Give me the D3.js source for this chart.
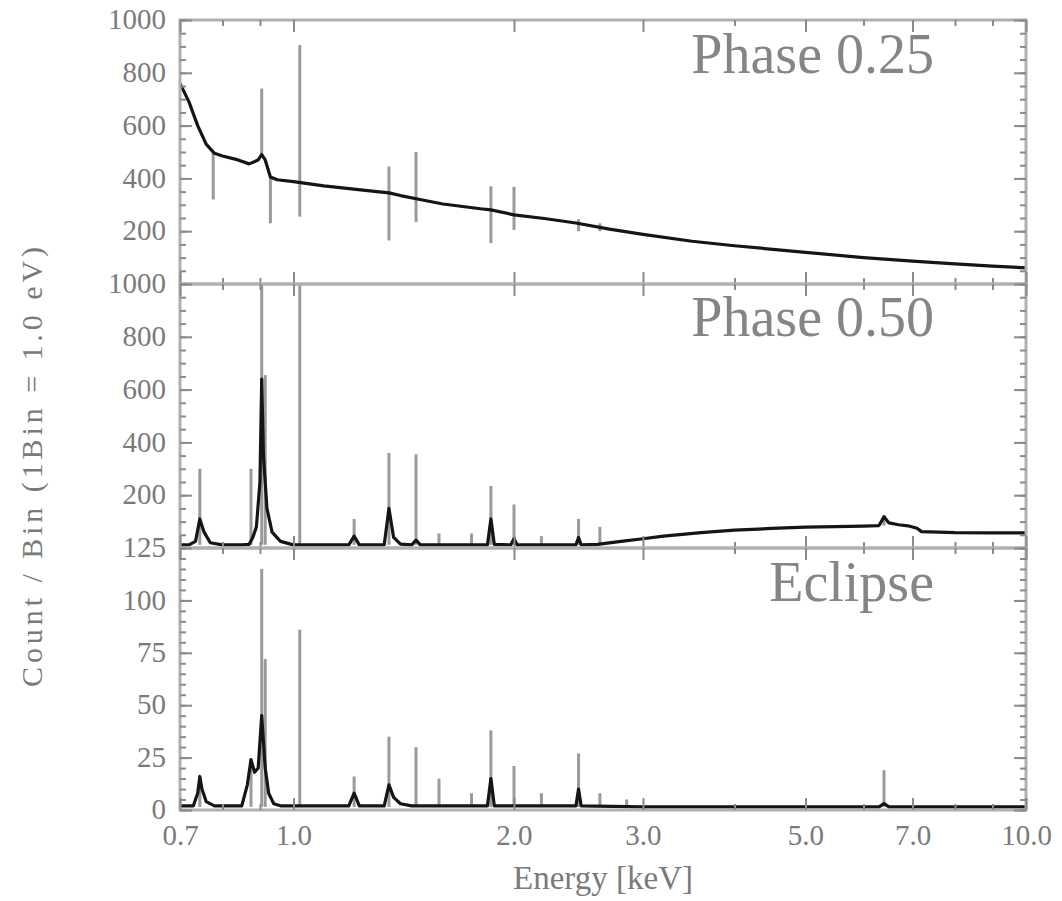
<!DOCTYPE html>
<html><head><meta charset="utf-8">
<script src="https://cdn.jsdelivr.net/npm/d3@7"></script>
<style>body{margin:0;background:#fff}svg{display:block}</style>
</head><body>
<svg id="chart" width="1062" height="901"></svg>
<script>
// ---------------- DATA ----------------
const panelTitles = ["Phase 0.25", "Phase 0.50", "Eclipse"];
const xTickValues = [0.7, 1.0, 2.0, 3.0, 5.0, 7.0, 10.0];
const xTickLabels = ["0.7", "1.0", "2.0", "3.0", "5.0", "7.0", "10.0"];
const xMinorTicks = [0.8, 0.9, 4.0, 6.0, 8.0, 9.0];
const yMax = [1000, 1000, 125];
const yTickValues = [[200, 400, 600, 800, 1000], [200, 400, 600, 800, 1000], [0, 25, 50, 75, 100, 125]];
const yMinorStep = [50, 50, 5];
const xTitle = "Energy [keV]";
const yTitle = "Count / Bin (1Bin = 1.0 eV)";

// Phase 0.25 spectrum (black)
const p25Energy = [0.70,0.72,0.74,0.76,0.78,0.80,0.84,0.87,0.895,0.905,0.915,0.93,0.95,1.0,1.1,1.2,1.3,1.35,1.4,1.5,1.6,1.8,1.86,2.0,2.2,2.43,2.7,3.0,3.5,4.0,5.0,6.0,7.0,8.0,9.0,10.0];
const p25Count  = [760,690,600,530,495,485,470,455,470,490,470,405,395,388,372,360,350,345,335,318,303,285,281,262,248,231,208,188,162,145,120,100,87,76,68,61];
// Phase 0.25 line markers (grey): energy, low, high
const p25LineE  = [0.777,0.905,0.93,1.02,1.35,1.47,1.86,2.0,2.45,2.62];
const p25LineLo = [320,480,230,255,165,235,155,205,200,200];
const p25LineHi = [495,740,405,905,445,500,370,368,245,230];

// Phase 0.50 spectrum (black)
const p50Energy = [0.70,0.72,0.735,0.745,0.755,0.77,0.80,0.85,0.87,0.88,0.89,0.90,0.905,0.91,0.92,0.935,0.96,1.0,1.19,1.21,1.23,1.33,1.35,1.37,1.40,1.45,1.47,1.49,1.84,1.86,1.88,1.98,2.0,2.02,2.43,2.45,2.47,2.6,2.8,3.0,3.2,3.6,4.0,4.5,5.0,5.5,6.0,6.3,6.4,6.5,6.7,6.9,7.1,7.2,8.0,9.0,10.0];
const p50Count  = [12,12,25,110,60,20,12,12,14,40,80,250,640,350,150,60,25,12,12,45,12,12,150,40,15,12,30,12,12,110,14,12,35,12,12,40,12,14,25,35,45,58,68,74,79,81,83,85,118,95,88,84,75,62,58,57,57];
const p50LineE  = [0.745,0.875,0.905,0.915,1.02,1.21,1.35,1.47,1.58,1.75,1.86,2.0,2.18,2.45,2.62,6.4];
const p50LineLo = [12,12,12,12,12,12,12,12,12,12,12,12,12,12,12,85];
const p50LineHi = [300,300,1100,655,1100,110,360,355,55,55,235,165,45,110,80,125];

// Eclipse spectrum (black)
const eclEnergy = [0.70,0.73,0.74,0.745,0.75,0.76,0.78,0.85,0.865,0.875,0.885,0.895,0.905,0.915,0.925,0.94,0.96,1.0,1.19,1.21,1.23,1.33,1.35,1.37,1.40,1.45,1.84,1.86,1.88,2.0,2.43,2.45,2.47,3.0,5.0,6.3,6.4,6.5,10.0];
const eclCount  = [2,2,8,16,10,4,2,2,12,24,18,20,45,20,8,3,2,2,2,8,2,2,12,6,3,2,2,15,2,2,2,10,2,1.5,1.5,1.5,3,1.5,1.5];
const eclLineE  = [0.745,0.875,0.905,0.915,1.02,1.21,1.35,1.47,1.58,1.75,1.86,2.0,2.18,2.45,2.62,2.85,6.4];
const eclLineLo = [1.5,1.5,1.5,1.5,1.5,1.5,1.5,1.5,1.5,1.5,1.5,1.5,1.5,1.5,1.5,1.5,1.5];
const eclLineHi = [16,24,115,72,86,16,35,30,15,8,38,21,8,27,8,5,19];

// ---------------- DRAW ----------------
const panels = [
  {E: p25Energy, C: p25Count, LE: p25LineE, LL: p25LineLo, LH: p25LineHi},
  {E: p50Energy, C: p50Count, LE: p50LineE, LL: p50LineLo, LH: p50LineHi},
  {E: eclEnergy, C: eclCount, LE: eclLineE, LL: eclLineLo, LH: eclLineHi}
];
const svg = d3.select("#chart");
const left = 180, right = 1026;
const tops = [20, 284, 548], bottoms = [284, 548, 810];
const font = "'Liberation Serif', 'Times New Roman', serif";
const textGrey = "#7a7a7a";

const x = d3.scaleLog().domain([0.7, 10]).range([left, right]);

panels.forEach((p, i) => {
  const top = tops[i], bottom = bottoms[i];
  const y = d3.scaleLinear().domain([0, yMax[i]]).range([bottom, top]);
  const g = svg.append("g");
  const clipId = "clip" + i;
  svg.append("clipPath").attr("id", clipId).append("rect")
     .attr("x", left).attr("y", top).attr("width", right - left).attr("height", bottom - top);
  const plot = g.append("g").attr("clip-path", `url(#${clipId})`);

  // grey line markers
  plot.selectAll("line.mark").data(d3.range(p.LE.length)).join("line")
    .attr("class", "mark")
    .attr("x1", k => x(p.LE[k])).attr("x2", k => x(p.LE[k]))
    .attr("y1", k => y(p.LL[k])).attr("y2", k => y(p.LH[k]))
    .attr("stroke", "#9a9a9a").attr("stroke-width", 3);

  // black spectrum
  const line = d3.line().x((d, k) => x(p.E[k])).y((d, k) => y(p.C[k]));
  plot.append("path").datum(p.C).attr("d", line)
    .attr("fill", "none").attr("stroke", "#151515").attr("stroke-width", 3.2)
    .attr("stroke-linejoin", "round");

  // frame
  g.append("rect").attr("x", left).attr("y", top).attr("width", right - left).attr("height", bottom - top)
    .attr("fill", "none").attr("stroke", "#b0b0b0").attr("stroke-width", 3);

  const styleAxis = a => {
    a.select(".domain").remove();
    a.selectAll(".tick line").attr("stroke", "#8a8a8a").attr("stroke-width", 2);
    a.selectAll("text").attr("fill", textGrey).attr("font-family", font).attr("font-size", 29);
  };

  // x major ticks (bottom & top, inward)
  const xb = g.append("g").attr("transform", `translate(0,${bottom})`)
    .call(d3.axisBottom(x).tickValues(xTickValues).tickSize(-12).tickPadding(14)
      .tickFormat((d, k) => i === 2 ? xTickLabels[k] : ""));
  styleAxis(xb);
  const xbm = g.append("g").attr("transform", `translate(0,${bottom})`)
    .call(d3.axisBottom(x).tickValues(xMinorTicks).tickSize(-6).tickFormat(""));
  styleAxis(xbm);
  const xt = g.append("g").attr("transform", `translate(0,${top})`)
    .call(d3.axisTop(x).tickValues(xTickValues).tickSize(-12).tickFormat(""));
  styleAxis(xt);
  const xtm = g.append("g").attr("transform", `translate(0,${top})`)
    .call(d3.axisTop(x).tickValues(xMinorTicks).tickSize(-6).tickFormat(""));
  styleAxis(xtm);

  // y ticks
  const minor = d3.range(0, yMax[i] + 0.001, yMinorStep[i]);
  const yl = g.append("g").attr("transform", `translate(${left},0)`)
    .call(d3.axisLeft(y).tickValues(yTickValues[i]).tickSize(-12).tickPadding(14).tickFormat(d3.format("d")));
  styleAxis(yl);
  yl.selectAll("text").attr("dy", "0.3em");
  const ylm = g.append("g").attr("transform", `translate(${left},0)`)
    .call(d3.axisLeft(y).tickValues(minor).tickSize(-6).tickFormat(""));
  styleAxis(ylm);
  const yr = g.append("g").attr("transform", `translate(${right},0)`)
    .call(d3.axisRight(y).tickValues(yTickValues[i]).tickSize(-12).tickFormat(""));
  styleAxis(yr);
  const yrm = g.append("g").attr("transform", `translate(${right},0)`)
    .call(d3.axisRight(y).tickValues(minor).tickSize(-6).tickFormat(""));
  styleAxis(yrm);

  // panel title
  g.append("text").attr("x", 934).attr("y", top + [53, 52, 53][i])
    .attr("text-anchor", "end").attr("font-family", font).attr("font-size", 56)
    .attr("fill", "#858585").text(panelTitles[i]);
});

// axis titles
svg.append("text").attr("x", (left + right) / 2).attr("y", 889)
  .attr("text-anchor", "middle").attr("font-family", font).attr("font-size", 33)
  .attr("fill", textGrey).text(xTitle);
svg.append("text").attr("transform", `translate(42,467) rotate(-90)`)
  .attr("text-anchor", "middle").attr("font-family", font).attr("font-size", 30)
  .attr("textLength", 440).attr("lengthAdjust", "spacing")
  .attr("fill", textGrey).text(yTitle);
</script>
</body></html>
